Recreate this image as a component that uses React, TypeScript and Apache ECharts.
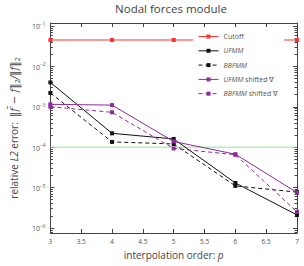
import React, { useEffect, useRef } from 'react';
import * as echarts from 'echarts';

const orders = [3, 4, 5, 6, 7];
const cutoff = [0.045, 0.045, 0.045, 0.045, 0.045];
const ufmm = [4.0e-3, 2.2e-4, 1.6e-4, 1.3e-5, 2.1e-6];
const bbfmm = [2.2e-3, 1.35e-4, 1.2e-4, 1.1e-5, 7.7e-6];
const ufmmShifted = [1.15e-3, 1.1e-3, 1.38e-4, 6.7e-5, 7.5e-6];
const bbfmmShifted = [1.0e-3, 7.3e-4, 9.3e-5, 6.5e-5, 2.5e-6];
const thresholdX = [3, 7];
const thresholdY = [1e-4, 1e-4];
const xTicks = [3, 3.5, 4, 4.5, 5, 5.5, 6, 6.5, 7];

const FONT = 'Open Sans';
const BLACK = '#111111';
const PURPLE = '#8e2a9c';
const RED = '#ff3333';
const GREEN = '#8fea8f';

function pairs(xs: number[], ys: number[]) {
  return xs.map((x, i) => [x, ys[i]]);
}

export default function App() {
  const ref = useRef<HTMLDivElement>(null);
  useEffect(() => {
    const chart = echarts.init(ref.current!, null, { renderer: 'svg' });
    const yLabel = (v: number) => {
      const e = Math.log10(v);
      const r = Math.round(e);
      if (Math.abs(e - r) > 1e-6) return '';
      return `{b|10}{s|\u2212${-r}}`;
    };
    const axisColor = '#444';
    const nameColor = '#444';
    const lineSeries = (name: string, ys: number[], color: string, dashed: boolean) => ({
      name,
      type: 'line',
      data: pairs(orders, ys),
      symbol: 'rect',
      symbolSize: 4,
      itemStyle: { color },
      lineStyle: { color, width: 1, type: dashed ? [4, 3] : 'solid' },
      z: 3,
    });
    chart.setOption({
      animation: false,
      backgroundColor: '#ffffff',
      textStyle: { fontFamily: FONT },
      graphic: [
        {
          type: 'text',
          x: 171,
          y: 2,
          style: {
            text: 'Nodal forces module',
            fontSize: 11.5,
            fontFamily: FONT,
            fill: '#444',
            textAlign: 'center',
            textVerticalAlign: 'top',
          },
        },
      ],
      grid: { left: 45, right: 7, top: 23, bottom: 33 },
      legend: {
        orient: 'vertical',
        left: 193,
        top: 30,
        padding: [3, 6, 3, 5],
        backgroundColor: '#ffffff',
        itemWidth: 20,
        itemHeight: 5,
        itemGap: 7.3,
        lineStyle: { width: 1 },
        textStyle: {
          fontSize: 7,
          color: '#555',
          fontFamily: FONT,
          lineHeight: 7,
          rich: { i: { fontStyle: 'italic', fontSize: 7, color: '#555', fontFamily: FONT } },
        },
        formatter: (name: string) => {
          if (name === 'UFMM' || name === 'BBFMM') return `{i|${name}}`;
          if (name === 'UFMM shifted ∇') return '{i|UFMM} shifted ∇';
          if (name === 'BBFMM shifted ∇') return '{i|BBFMM} shifted ∇';
          return name;
        },
        data: ['Cutoff', 'UFMM', 'BBFMM', 'UFMM shifted ∇', 'BBFMM shifted ∇'],
      },
      xAxis: [
        {
          type: 'value',
          min: 3,
          max: 7,
          interval: 0.5,
          name: 'interpolation order: {i|p}',
          nameLocation: 'middle',
          nameGap: 15,
          nameTextStyle: {
            fontSize: 10,
            color: nameColor,
            fontFamily: FONT,
            rich: { i: { fontStyle: 'italic', fontSize: 10, color: nameColor, fontFamily: FONT } },
          },
          axisLine: { show: true, lineStyle: { color: axisColor, width: 1 } },
          axisTick: { show: true, inside: true, length: 4, lineStyle: { color: axisColor } },
          axisLabel: {
            fontSize: 6.5,
            color: '#555',
            margin: 5,
            fontFamily: FONT,
            formatter: (v: number) => (xTicks.includes(v) ? String(v) : ''),
          },
          splitLine: { show: false },
        },
        {
          type: 'value',
          position: 'top',
          min: 3,
          max: 7,
          interval: 0.5,
          axisLine: { show: true, lineStyle: { color: axisColor, width: 1 } },
          axisTick: { show: true, inside: true, length: 4, lineStyle: { color: axisColor } },
          axisLabel: { show: false },
          splitLine: { show: false },
        },
      ],
      yAxis: [
        {
          type: 'log',
          min: 7.5e-7,
          max: 0.1186,
          name: '{n|relative }{i|L2}{n| error:  }{m|‖f̃ − f‖}{sub|2}{m|/‖f‖}{sub|2}',
          nameLocation: 'middle',
          nameGap: 28,
          nameTextStyle: {
            fontSize: 10,
            color: nameColor,
            fontFamily: FONT,
            rich: {
              n: { fontSize: 10, color: nameColor, fontFamily: FONT, verticalAlign: 'bottom', lineHeight: 12 },
              i: { fontStyle: 'italic', fontSize: 10, color: nameColor, fontFamily: FONT, verticalAlign: 'bottom', lineHeight: 12 },
              m: { fontStyle: 'italic', fontSize: 10.5, color: nameColor, fontFamily: 'DejaVu Serif', verticalAlign: 'bottom', lineHeight: 12 },
              sub: { fontSize: 7, color: nameColor, fontFamily: FONT, verticalAlign: 'bottom', lineHeight: 7, padding: [0, 0, -2, 0] },
            },
          },
          axisLine: { show: true, lineStyle: { color: axisColor, width: 1 } },
          axisTick: { show: true, inside: true, length: 4, lineStyle: { color: axisColor } },
          minorTick: { show: true, splitNumber: 9, length: 2.5, lineStyle: { color: axisColor } },
          axisLabel: {
            margin: 5,
            formatter: yLabel,
            rich: {
              b: { fontSize: 7, color: '#555', fontFamily: FONT, verticalAlign: 'bottom' },
              s: { fontSize: 4.8, color: '#555', fontFamily: FONT, verticalAlign: 'bottom', padding: [0, 0, 4, 0] },
            },
          },
          splitLine: { show: false },
        },
        {
          type: 'log',
          position: 'right',
          min: 7.5e-7,
          max: 0.1186,
          axisLine: { show: true, lineStyle: { color: axisColor, width: 1 } },
          axisTick: { show: true, inside: true, length: 4, lineStyle: { color: axisColor } },
          minorTick: { show: true, splitNumber: 9, length: 2.5, lineStyle: { color: axisColor } },
          axisLabel: { show: false },
          splitLine: { show: false },
        },
      ],
      series: [
        {
          name: 'threshold',
          type: 'line',
          data: pairs(thresholdX, thresholdY),
          symbol: 'none',
          lineStyle: { color: GREEN, width: 1 },
          z: 1,
        },
        lineSeries('Cutoff', cutoff, RED, false),
        lineSeries('UFMM', ufmm, BLACK, false),
        lineSeries('BBFMM', bbfmm, BLACK, true),
        lineSeries('UFMM shifted ∇', ufmmShifted, PURPLE, false),
        lineSeries('BBFMM shifted ∇', bbfmmShifted, PURPLE, true),
      ],
    });
    return () => chart.dispose();
  }, []);
  return (
    <div
      ref={ref}
      style={{ position: 'fixed', left: 0, top: 0, width: 304, height: 266, background: '#fff' }}
    />
  );
}
